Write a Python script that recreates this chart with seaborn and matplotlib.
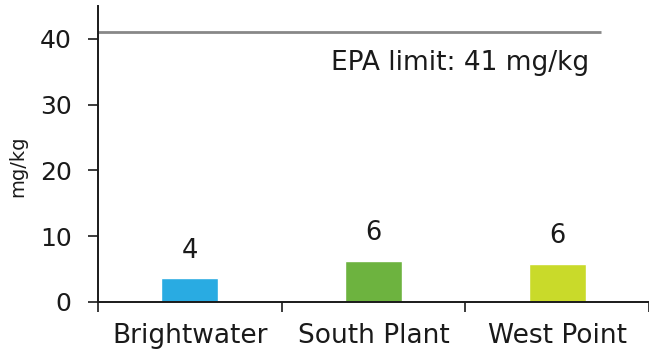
import matplotlib
matplotlib.use("Agg")
import matplotlib.pyplot as plt
import seaborn as sns
import pandas as pd

# Biosolids metal concentrations by treatment plant
plants = ["Brightwater", "South Plant", "West Point"]
values = [3.6, 6.3, 5.8]
colors = ["#29ABE2", "#6DB33F", "#C9DA2A"]
epa_limit = 41
y_ticks = [0, 10, 20, 30, 40]

sns.set_theme(style="white")
plt.rcParams["font.family"] = ["DejaVu Sans"]

df = pd.DataFrame({"plant": plants, "value": values})

fig = plt.figure(figsize=(6.49, 3.56), dpi=100)
ax = fig.add_axes([0.151, 0.1517, 0.849, 0.8315])

sns.barplot(data=df, x="plant", y="value", hue="plant", palette=colors,
            width=0.31, legend=False, ax=ax, saturation=1)

for i, v in enumerate(values):
    ax.text(i, v + 2.2, f"{v:.0f}", ha="center", va="bottom", fontsize=18.5,
            color="#1a1a1a")

# EPA limit line and label
ax.plot([-0.5, 2.237], [epa_limit, epa_limit], color="#888888", lw=2,
        solid_capstyle="butt")
ax.text(1.47, 36.4, f"EPA limit: {epa_limit} mg/kg", ha="center",
        va="center", fontsize=19, color="#1a1a1a")

ax.set_xlim(-0.5, 2.5)
ax.set_ylim(0, 45)
ax.set_yticks(y_ticks)
ax.set_xticks(range(len(plants)))
ax.set_xticklabels(plants, fontsize=19, color="#1a1a1a")
ax.set_xticks([-0.5, 0.5, 1.5, 2.5], minor=True)
ax.tick_params(axis="x", which="major", bottom=False, length=0, pad=15)
ax.tick_params(axis="x", which="minor", bottom=True, direction="out",
               length=7, width=1.2, color="#1a1a1a")
ax.tick_params(axis="y", which="major", left=True, direction="out", length=7,
               width=1.2, color="#1a1a1a", labelsize=18,
               labelcolor="#1a1a1a", pad=12)
ax.set_xlabel("")
ax.set_ylabel("mg/kg", fontsize=14, color="#1a1a1a")
ax.yaxis.set_label_coords(-0.128, 0.46)

for side in ["top", "right"]:
    ax.spines[side].set_visible(False)
for side in ["left", "bottom"]:
    ax.spines[side].set_color("#1a1a1a")
    ax.spines[side].set_linewidth(1.4)

fig.savefig("out.png", dpi=100)
